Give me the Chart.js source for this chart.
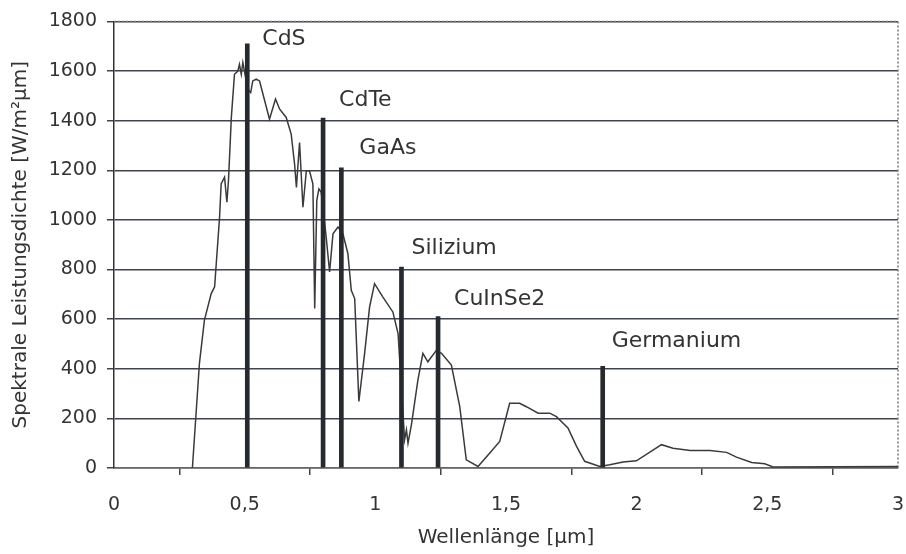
<!DOCTYPE html>
<html lang="de">

<head>
    <meta charset="UTF-8">
    <title>Spektrale Leistungsdichte</title>
    <style>
        html, body {
            margin: 0;
            padding: 0;
            background: #fff;
        }

        .chart-box {
            width: 906px;
            height: 554px;
        }
    </style>
</head>

<body>
    <div class="chart-box">
        <canvas id="spectrumChart" width="906" height="554"></canvas>
    </div>

    <script src="https://cdn.jsdelivr.net/npm/chart.js"></script>
    <script>
        // Sonnenspektrum: Wellenlaenge [µm] und spektrale Leistungsdichte [W/m²µm]
        const wavelength = [
            0.30, 0.327, 0.346, 0.372, 0.385, 0.404, 0.41, 0.423, 0.432, 0.438,
            0.449, 0.461, 0.474, 0.48, 0.487, 0.493, 0.512, 0.523, 0.531, 0.544,
            0.557, 0.595, 0.618, 0.634, 0.659, 0.678, 0.691, 0.698, 0.71, 0.723,
            0.736, 0.748, 0.761, 0.768, 0.776, 0.784, 0.793, 0.812, 0.825, 0.838,
            0.857, 0.876, 0.895, 0.908, 0.921, 0.937, 0.959, 0.978, 0.997, 1.029,
            1.067, 1.087, 1.112, 1.119, 1.125, 1.138, 1.163, 1.182, 1.201, 1.234,
            1.253, 1.291, 1.323, 1.348, 1.393, 1.438, 1.476, 1.514, 1.552, 1.578,
            1.623, 1.667, 1.693, 1.737, 1.77, 1.801, 1.859, 1.897, 1.948, 1.999,
            2.095, 2.139, 2.205, 2.281, 2.344, 2.382, 2.44, 2.49, 2.522, 3.0
        ];
        const powerDensity = [
            0, 423, 596, 703, 730, 1011, 1145, 1172, 1071, 1158,
            1413, 1587, 1600, 1627, 1587, 1634, 1527, 1513, 1560, 1567,
            1560, 1406, 1487, 1446, 1413, 1346, 1225, 1131, 1312, 1051,
            1198, 1198, 1145, 643, 1079, 1125, 1111, 930, 790, 944,
            971, 944, 864, 716, 683, 268, 462, 649, 743, 689,
            629, 542, 114, 154, 100, 174, 355, 462, 428, 475,
            462, 415, 247, 33, 6, 60, 107, 261, 261, 247,
            221, 221, 207, 161, 87, 27, 6, 13, 24, 29,
            94, 80, 71, 71, 63, 44, 22, 17, 4, 6
        ];

        // Bandluecken der Halbleiter als senkrechte Balken
        const materials = ['CdS', 'CdTe', 'GaAs', 'Silizium', 'CuInSe2', 'Germanium'];
        const gapWavelength = [0.51, 0.80, 0.87, 1.10, 1.24, 1.87];
        const gapHeight = [1710, 1410, 1210, 810, 610, 410];

        const xTicks = [0, 0.5, 1, 1.5, 2, 2.5, 3];
        const yTicks = [0, 200, 400, 600, 800, 1000, 1200, 1400, 1600, 1800];

        const tickFont = { family: 'DejaVu Sans', size: 19 };
        const titleFont = { family: 'DejaVu Sans', size: 20 };
        const textColor = '#333';

        // Beschriftung neben der Balkenspitze (Versatz in Pixel)
        const labelOffsets = [[15, -4], [16, -18], [18, -20], [10, -19], [16, -17], [9, -25]];

        const materialLabels = {
            id: 'materialLabels',
            afterDatasetsDraw(chart) {
                const meta = chart.getDatasetMeta(1);
                const ctx = chart.ctx;
                ctx.save();
                ctx.font = '22px "DejaVu Sans"';
                ctx.fillStyle = textColor;
                ctx.textAlign = 'left';
                ctx.textBaseline = 'middle';
                meta.data.forEach((bar, i) => {
                    const off = labelOffsets[i];
                    ctx.fillText(materials[i], bar.x + off[0], bar.y + off[1]);
                });
                ctx.restore();
            }
        };

        // gepunkteter Rahmen oben und rechts
        const dottedFrame = {
            id: 'dottedFrame',
            beforeDatasetsDraw(chart) {
                const a = chart.chartArea;
                const ctx = chart.ctx;
                ctx.save();
                ctx.strokeStyle = '#777';
                ctx.lineWidth = 1.5;
                ctx.setLineDash([2, 2]);
                ctx.beginPath();
                ctx.moveTo(a.left, a.top);
                ctx.lineTo(a.right, a.top);
                ctx.lineTo(a.right, a.bottom);
                ctx.stroke();
                ctx.restore();
            }
        };

        const ctx = document.getElementById('spectrumChart').getContext('2d');
        new Chart(ctx, {
            type: 'line',
            data: {
                datasets: [{
                    type: 'line',
                    data: wavelength.map((w, i) => ({ x: w, y: powerDensity[i] })),
                    borderColor: '#3a3a3a',
                    borderWidth: 1.5,
                    pointRadius: 0,
                    tension: 0,
                    order: 2
                }, {
                    type: 'bar',
                    data: gapWavelength.map((w, i) => ({ x: w, y: gapHeight[i] })),
                    backgroundColor: '#262a2e',
                    barThickness: 4,
                    grouped: false,
                    order: 1
                }]
            },
            options: {
                responsive: false,
                animation: false,
                layout: { padding: { top: 20, right: 8, left: 0, bottom: 0 } },
                plugins: {
                    legend: { display: false },
                    tooltip: { enabled: false }
                },
                scales: {
                    x: {
                        type: 'linear',
                        min: 0,
                        max: 3,
                        offset: false,
                        afterBuildTicks: (s) => { s.ticks = xTicks.map(v => ({ value: v })); },
                        afterFit: (s) => {
                            s.height = 86;
                            s.paddingLeft = 0;
                            s.paddingRight = 0;
                        },
                        ticks: {
                            font: tickFont,
                            color: textColor,
                            padding: 19,
                            maxRotation: 0,
                            callback: (v) => String(v).replace('.', ',')
                        },
                        grid: {
                            drawOnChartArea: false,
                            drawTicks: true,
                            tickLength: 7,
                            color: '#444',
                            lineWidth: 1.5
                        },
                        border: { color: '#666', width: 1.5 },
                        title: {
                            display: true,
                            text: 'Wellenlänge [µm]',
                            font: titleFont,
                            color: textColor,
                            padding: { top: 4, bottom: 4 }
                        }
                    },
                    y: {
                        min: 0,
                        max: 1800,
                        afterBuildTicks: (s) => { s.ticks = yTicks.map(v => ({ value: v })); },
                        afterFit: (s) => { s.width = 114; },
                        ticks: {
                            font: tickFont,
                            color: textColor,
                            padding: 10,
                            callback: (v) => String(v)
                        },
                        grid: {
                            color: '#3e4550',
                            lineWidth: 1.5,
                            tickLength: 7
                        },
                        border: { color: '#333', width: 1.5 },
                        title: {
                            display: true,
                            text: 'Spektrale Leistungsdichte [W/m²µm]',
                            font: titleFont,
                            color: textColor,
                            padding: { top: 9, bottom: 4 }
                        }
                    }
                }
            },
            plugins: [materialLabels, dottedFrame]
        });
    </script>
</body>

</html>
